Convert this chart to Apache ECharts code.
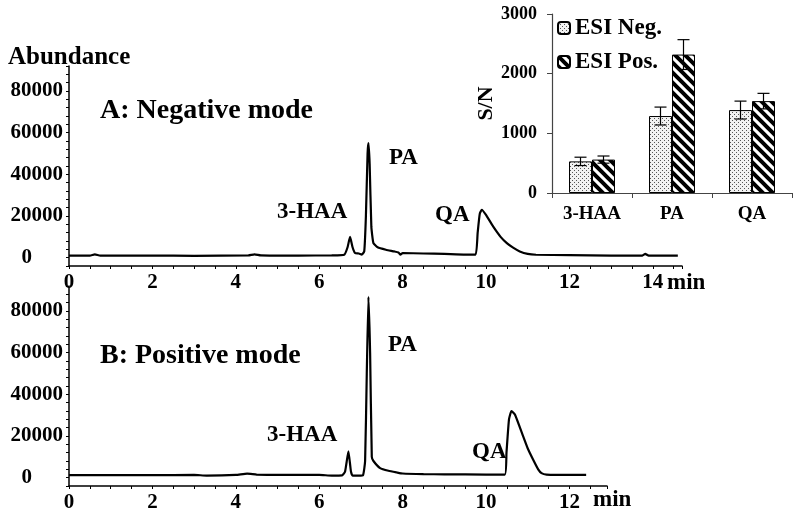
<!DOCTYPE html>
<html>
<head>
<meta charset="utf-8">
<script src="https://cdn.jsdelivr.net/npm/echarts@6/dist/echarts.min.js"></script>
<style>
html,body{margin:0;padding:0;background:#fff;}
#c{width:800px;height:516px;}
</style>
</head>
<body>
<div id="c"></div>
<script>
// ---- Data ----
// Panel A (negative mode) chromatogram: [time (min), abundance]
const traceA = [
  [0, 1000], [0.5, 1000], [0.62, 1600], [0.75, 1000], [2, 1000], [3, 900], [4.3, 1100], [4.45, 1600], [4.6, 1100],
  [5.5, 1000], [6.3, 1100], [6.6, 1400], [6.68, 5000], [6.74, 10000], [6.8, 5000], [6.86, 2200], [6.95, 2000],
  [7.02, 1500], [7.08, 3000], [7.12, 20000], [7.16, 50000], [7.18, 55000], [7.21, 45000], [7.25, 15000], [7.3, 7000],
  [7.4, 5000], [7.6, 3800], [7.8, 3000], [7.9, 2500], [7.95, 1500], [8.0, 2200], [8.5, 2000], [9.0, 1800], [9.5, 1500],
  [9.75, 1500], [9.8, 12000], [9.85, 21000], [9.9, 23000], [10.0, 20500], [10.17, 15000], [10.35, 10000], [10.5, 7000],
  [10.65, 4800], [10.81, 3000], [11.0, 1800], [11.2, 1400], [12, 1200], [13, 1000], [13.75, 1000], [13.82, 1800],
  [13.9, 1000], [14.6, 1000]
];
// Panel B (positive mode) chromatogram
const traceB = [
  [0, 1200], [1, 1200], [2, 1200], [3, 1300], [3.3, 1000], [4, 1300], [4.27, 1900], [4.5, 1500], [5, 1300], [6, 1300],
  [6.3, 1000], [6.55, 1100], [6.62, 3000], [6.7, 12600], [6.76, 3000], [6.8, 1000], [6.95, 1000], [7.05, 1200],
  [7.1, 8000], [7.14, 50000], [7.18, 86800], [7.22, 60000], [7.26, 10000], [7.3, 8000], [7.46, 4600], [7.66, 3300],
  [7.86, 2500], [8.0, 2000], [8.5, 1700], [9, 1600], [10, 1500], [10.45, 1500], [10.49, 12000], [10.55, 28000],
  [10.61, 32000], [10.7, 30000], [10.89, 19800], [11.0, 14000], [11.13, 8600], [11.25, 4000], [11.33, 2200],
  [11.45, 1500], [12, 1300], [12.4, 1300]
];
// Inset: S/N
const insetCategories = ['3-HAA', 'PA', 'QA'];
const snNeg = [530, 1290, 1390];
const snNegErr = [70, 150, 150];
const snPos = [560, 2320, 1540];
const snPosErr = [60, 250, 130];
const seriesNames = ['ESI Neg.', 'ESI Pos.'];
// Labels
const peakLabelsA = ['3-HAA', 'PA', 'QA'];
const peakLabelsB = ['3-HAA', 'PA', 'QA'];

// ---- Patterns ----
function dotPattern() {
  const c = document.createElement('canvas');
  c.width = 4; c.height = 4;
  const g = c.getContext('2d');
  g.fillStyle = '#f2f2f2'; g.fillRect(0, 0, 4, 4);
  g.fillStyle = '#555';
  g.fillRect(0, 0, 1, 1); g.fillRect(2, 2, 1, 1);
  return c;
}
function stripePattern() {
  const c = document.createElement('canvas');
  c.width = 10; c.height = 10;
  const g = c.getContext('2d');
  g.fillStyle = '#fff'; g.fillRect(0, 0, 10, 10);
  g.strokeStyle = '#000'; g.lineWidth = 4;
  g.beginPath();
  g.moveTo(-5, -5); g.lineTo(15, 15);
  g.moveTo(-15, -5); g.lineTo(5, 15);
  g.moveTo(5, -5); g.lineTo(25, 15);
  g.stroke();
  return c;
}
const negFill = { image: dotPattern(), repeat: 'repeat' };
const posFill = { image: stripePattern(), repeat: 'repeat' };

const FONT = '"Liberation Serif", "Times New Roman", serif';
const axisColor = '#000';

function mainX(gridIndex, max) {
  return {
    type: 'value', gridIndex: gridIndex, min: 0, max: max, interval: 0.5,
    axisLine: { show: true, onZero: false, lineStyle: { color: axisColor, width: 1.5 } },
    axisTick: { show: true, length: 3, lineStyle: { color: axisColor } },
    splitLine: { show: false },
    axisLabel: {
      margin: 6, color: '#000', fontFamily: FONT, fontWeight: 'bold', fontSize: 21,
      formatter: function (v) {
        const r = v / 2;
        return Math.abs(r - Math.round(r)) < 1e-6 ? String(Math.round(v)) : '';
      }
    }
  };
}
function mainY(gridIndex) {
  return {
    type: 'value', gridIndex: gridIndex, min: -4000, max: 92000, interval: 4000,
    axisLine: { show: true, lineStyle: { color: axisColor, width: 1.5 } },
    axisTick: { show: true, length: 3, lineStyle: { color: axisColor } },
    splitLine: { show: false },
    axisLabel: {
      margin: 6, color: '#000', fontFamily: FONT, fontWeight: 'bold', fontSize: 21,
      formatter: function (v) {
        if (v === 0) return '{z|0}';
        return (v > 0 && v % 20000 === 0) ? String(v) : '';
      },
      rich: { z: { padding: [0, 31, 0, 0], color: '#000', fontFamily: FONT, fontWeight: 'bold', fontSize: 21 } }
    }
  };
}

function errRender(offset) {
  return function (params, api) {
    const idx = api.value(0), val = api.value(1), err = api.value(2);
    const c = api.coord([idx, val]);
    const x = c[0] + offset;
    const yt = api.coord([idx, val + err])[1];
    const yb = api.coord([idx, val - err])[1];
    const st = { stroke: '#000', lineWidth: 1.2 };
    return {
      type: 'group',
      children: [
        { type: 'line', shape: { x1: x, y1: yt, x2: x, y2: yb }, style: st },
        { type: 'line', shape: { x1: x - 6, y1: yt, x2: x + 6, y2: yt }, style: st },
        { type: 'line', shape: { x1: x - 6, y1: yb, x2: x + 6, y2: yb }, style: st }
      ]
    };
  };
}

function txt(text, x, cy, size) {
  return {
    type: 'text', x: x, y: cy, z: 100,
    style: { text: text, fill: '#000', font: 'bold ' + size + 'px ' + FONT, textVerticalAlign: 'middle', textAlign: 'left' }
  };
}

const chart = echarts.init(document.getElementById('c'), null, { renderer: 'canvas' });
const option = {
  backgroundColor: '#fff',
  animation: false,
  grid: [
    { left: 69, top: 66, width: 613, height: 200, outerBoundsMode: 'none' },
    { left: 69, top: 286, width: 538, height: 200, outerBoundsMode: 'none' },
    { left: 552, top: 14, width: 240, height: 179, outerBoundsMode: 'none' }
  ],
  xAxis: [
    mainX(0, 14.7),
    mainX(1, 12.9),
    {
      type: 'category', gridIndex: 2, data: insetCategories,
      axisLine: { show: true, lineStyle: { color: '#444', width: 1.2 } },
      axisTick: { show: true, length: 5, lineStyle: { color: '#444' } },
      axisLabel: { margin: 12, color: '#000', fontFamily: FONT, fontWeight: 'bold', fontSize: 19 }
    }
  ],
  yAxis: [
    mainY(0),
    mainY(1),
    {
      type: 'value', gridIndex: 2, min: 0, max: 3000, interval: 1000,
      name: 'S/N', nameLocation: 'middle', nameGap: 50, nameRotate: 90,
      nameTextStyle: { color: '#000', fontFamily: FONT, fontWeight: 'bold', fontSize: 22 },
      axisLine: { show: true, lineStyle: { color: '#444', width: 1.2 } },
      axisTick: { show: true, length: 5, lineStyle: { color: '#444' } },
      splitLine: { show: false },
      axisLabel: {
        margin: 15, color: '#000', fontFamily: FONT, fontWeight: 'bold', fontSize: 18,
        formatter: function (v) { return String(v); }
      }
    }
  ],
  legend: {
    show: true, orient: 'vertical', left: 557, top: 16, padding: 0, itemWidth: 12, itemHeight: 12, itemGap: 10,
    data: seriesNames,
    textStyle: { color: '#000', fontFamily: FONT, fontWeight: 'bold', fontSize: 23, lineHeight: 24 }
  },
  series: [
    {
      type: 'line', xAxisIndex: 0, yAxisIndex: 0, data: traceA, symbol: 'none', smooth: 0.15,
      lineStyle: { color: '#000', width: 2.2 }, z: 5
    },
    {
      type: 'line', xAxisIndex: 1, yAxisIndex: 1, data: traceB, symbol: 'none', smooth: 0.15,
      lineStyle: { color: '#000', width: 2.2 }, z: 5
    },
    {
      name: seriesNames[0], type: 'bar', xAxisIndex: 2, yAxisIndex: 2, data: snNeg,
      barWidth: 23, barGap: '0%',
      itemStyle: { color: negFill, borderColor: '#000', borderWidth: 1 }
    },
    {
      name: seriesNames[1], type: 'bar', xAxisIndex: 2, yAxisIndex: 2, data: snPos,
      barWidth: 23, barGap: '0%',
      itemStyle: { color: posFill, borderColor: '#000', borderWidth: 1 }
    },
    {
      type: 'custom', xAxisIndex: 2, yAxisIndex: 2, z: 10,
      data: snNeg.map(function (v, i) { return [i, v, snNegErr[i]]; }),
      encode: { x: 0, y: 1 }, renderItem: errRender(-11.5)
    },
    {
      type: 'custom', xAxisIndex: 2, yAxisIndex: 2, z: 10,
      data: snPos.map(function (v, i) { return [i, v, snPosErr[i]]; }),
      encode: { x: 0, y: 1 }, renderItem: errRender(11.5)
    }
  ],
  graphic: [
    txt('Abundance', 8, 58, 25),
    txt('A: Negative mode', 100, 111, 28),
    txt('B: Positive mode', 100, 356, 28),
    txt(peakLabelsA[0], 277, 212, 23),
    txt(peakLabelsA[1], 389, 158, 23),
    txt(peakLabelsA[2], 435, 215, 23),
    txt(peakLabelsB[0], 267, 435, 23),
    txt(peakLabelsB[1], 388, 345, 23),
    txt(peakLabelsB[2], 472, 452, 23),
    txt('min', 667, 283, 23),
    txt('min', 593, 500, 23)
  ]
};
chart.setOption(option);
</script>
</body>
</html>
